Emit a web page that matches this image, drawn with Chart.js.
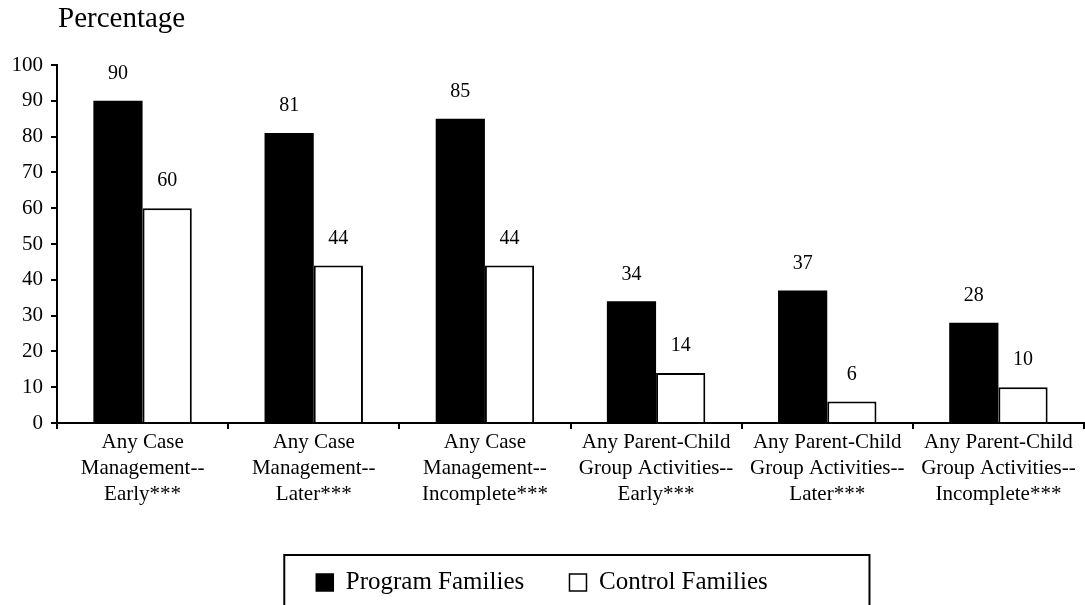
<!DOCTYPE html>
<html>
<head>
<meta charset="utf-8">
<script src="https://cdn.jsdelivr.net/npm/chart.js@4/dist/chart.umd.min.js"></script>
<style>
  html, body { margin: 0; padding: 0; background: #fff; }
  #wrap { width: 1085px; height: 605px; }
</style>
</head>
<body>
<div id="wrap"><canvas id="chart"></canvas></div>
<script>
const categories = [
  ['Any Case', 'Management--', 'Early***'],
  ['Any Case', 'Management--', 'Later***'],
  ['Any Case', 'Management--', 'Incomplete***'],
  ['Any Parent-Child', 'Group Activities--', 'Early***'],
  ['Any Parent-Child', 'Group Activities--', 'Later***'],
  ['Any Parent-Child', 'Group Activities--', 'Incomplete***']
];
const programFamilies = [90, 81, 85, 34, 37, 28];
const controlFamilies = [60, 44, 44, 14, 6, 10];
const yTicks = [0, 10, 20, 30, 40, 50, 60, 70, 80, 90, 100];

const serif = 'Liberation Serif';

// value above every bar
const barValues = {
  id: 'barValues',
  afterDatasetsDraw(chart) {
    const ctx = chart.ctx;
    ctx.save();
    ctx.font = '20px "' + serif + '"';
    ctx.fillStyle = '#000';
    ctx.textAlign = 'center';
    ctx.textBaseline = 'middle';
    chart.data.datasets.forEach((ds, i) => {
      chart.getDatasetMeta(i).data.forEach((bar, j) => {
        ctx.fillText(ds.data[j], bar.x, bar.y - 27);
      });
    });
    ctx.restore();
  }
};

// "Percentage" above the y axis
const axisCaption = {
  id: 'axisCaption',
  afterDraw(chart) {
    const ctx = chart.ctx;
    ctx.save();
    ctx.font = '29px "' + serif + '"';
    ctx.fillStyle = '#000';
    ctx.textAlign = 'left';
    ctx.textBaseline = 'middle';
    ctx.fillText('Percentage', chart.chartArea.left + 1, chart.chartArea.top - 46);
    ctx.restore();
  }
};

// frame round the legend
const legendFrame = {
  id: 'legendFrame',
  afterDraw(chart) {
    const boxes = chart.legend.legendHitBoxes;
    if (!boxes || boxes.length < 2) return;
    const left = boxes[0].left - 32;
    const right = boxes[1].left + 300;
    const top = boxes[0].top - 15;
    const ctx = chart.ctx;
    ctx.save();
    ctx.strokeStyle = '#000';
    ctx.lineWidth = 2;
    ctx.strokeRect(left, top, right - left, 80);
    ctx.restore();
  }
};

new Chart(document.getElementById('chart'), {
  type: 'bar',
  data: {
    labels: categories,
    datasets: [
      {
        label: 'Program Families',
        data: programFamilies,
        backgroundColor: '#000',
        borderColor: '#000',
        borderWidth: 0
      },
      {
        label: 'Control Families',
        data: controlFamilies,
        backgroundColor: '#fff',
        borderColor: '#000',
        borderWidth: 2
      }
    ]
  },
  options: {
    responsive: true,
    maintainAspectRatio: false,
    animation: false,
    layout: { padding: { top: 65, right: 1, left: 0, bottom: 0 } },
    datasets: {
      bar: { categoryPercentage: 0.575, barPercentage: 1 }
    },
    scales: {
      x: {
        grid: { drawOnChartArea: false, drawTicks: true, tickLength: 6, color: '#000', lineWidth: 2, offset: true },
        border: { display: true, color: '#000', width: 2 },
        ticks: {
          color: '#000',
          padding: 0,
          maxRotation: 0,
          autoSkip: false,
          font: { family: serif, size: 21, lineHeight: 1.24 }
        },
        afterFit(scale) { scale.height = 133; }
      },
      y: {
        min: 0,
        max: 100,
        afterBuildTicks(scale) { scale.ticks = yTicks.map(v => ({ value: v })); },
        grid: { drawOnChartArea: false, drawTicks: true, tickLength: 6, color: '#000', lineWidth: 2 },
        border: { display: true, color: '#000', width: 2 },
        ticks: {
          color: '#000',
          padding: 8,
          font: { family: serif, size: 21 }
        },
        afterFit(scale) { scale.width = 57; }
      }
    },
    plugins: {
      tooltip: { enabled: false },
      title: { display: false },
      legend: {
        position: 'bottom',
        labels: {
          color: '#000',
          boxWidth: 17,
          boxHeight: 17,
          padding: 14,
          font: { family: serif, size: 25 },
          generateLabels(chart) {
            const items = Chart.defaults.plugins.legend.labels.generateLabels(chart);
            items.forEach(it => { it.lineWidth = 1.5; });
            items[0].text = items[0].text + '     ';
            return items;
          }
        }
      }
    }
  },
  plugins: [barValues, axisCaption, legendFrame]
});
</script>
</body>
</html>
